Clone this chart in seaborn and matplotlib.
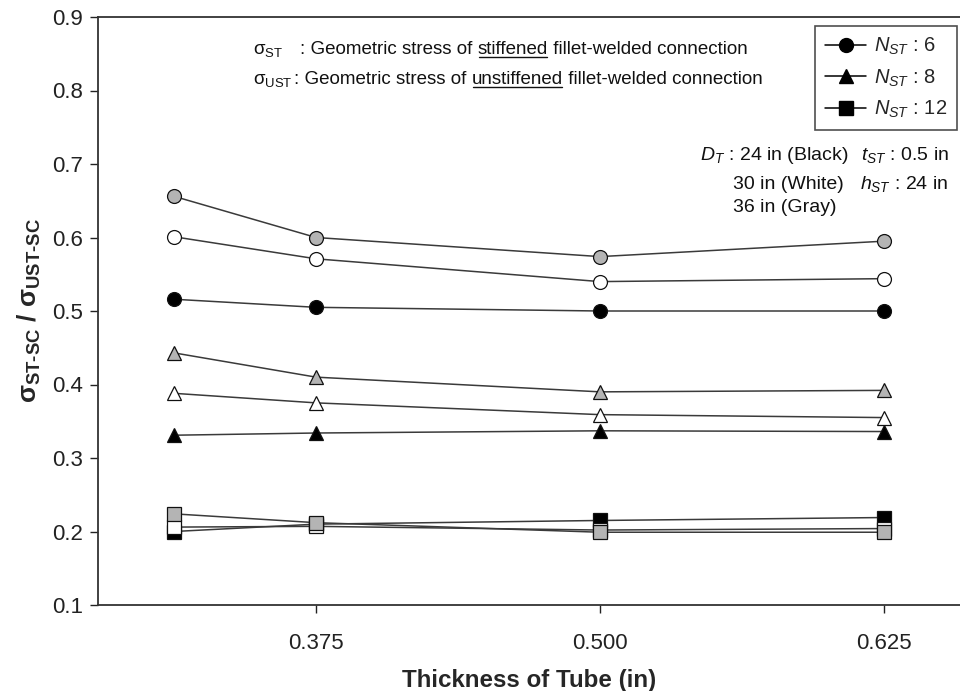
import matplotlib
matplotlib.use("Agg")
import matplotlib.pyplot as plt
from matplotlib.lines import Line2D
from matplotlib.transforms import IdentityTransform
import numpy as np
import pandas as pd
import seaborn as sns

# ---- data -------------------------------------------------------------
thickness = [0.3125, 0.375, 0.500, 0.625]
tick_values = [0.375, 0.500, 0.625]
tick_labels = ["0.375", "0.500", "0.625"]

# N_ST = 6 (circles)
n6_d24 = [0.516, 0.505, 0.500, 0.500]
n6_d30 = [0.601, 0.571, 0.540, 0.544]
n6_d36 = [0.656, 0.600, 0.574, 0.595]
# N_ST = 8 (triangles)
n8_d24 = [0.331, 0.334, 0.337, 0.336]
n8_d30 = [0.388, 0.375, 0.359, 0.355]
n8_d36 = [0.443, 0.410, 0.390, 0.392]
# N_ST = 12 (squares)
n12_d24 = [0.200, 0.210, 0.215, 0.219]
n12_d30 = [0.206, 0.207, 0.202, 0.204]
n12_d36 = [0.224, 0.212, 0.199, 0.199]

stiffener_counts = [6, 8, 12]
tube_diameters = [24, 30, 36]

series = {
    (6, 24): n6_d24, (6, 30): n6_d30, (6, 36): n6_d36,
    (8, 24): n8_d24, (8, 30): n8_d30, (8, 36): n8_d36,
    (12, 24): n12_d24, (12, 30): n12_d30, (12, 36): n12_d36,
}

rows = []
for (n, d), vals in series.items():
    for t, v in zip(thickness, vals):
        rows.append({"thickness": t, "ratio": v, "N": n, "D": d})
df = pd.DataFrame(rows)

# ---- style ------------------------------------------------------------
sns.set_style("ticks")
plt.rcParams["font.family"] = ["Liberation Sans", "DejaVu Sans"]
plt.rcParams["mathtext.fontset"] = "custom"
plt.rcParams["mathtext.rm"] = "Liberation Sans"
plt.rcParams["mathtext.it"] = "Liberation Sans:italic"
plt.rcParams["mathtext.bf"] = "Liberation Sans:bold"

W, H = 960, 691
fig = plt.figure(figsize=(W / 100, H / 100), dpi=100)
ax = fig.add_axes([98 / W, 1 - 605 / H, 1 - 98 / W, (605 - 17) / H])

markers = {6: "o", 8: "^", 12: "s"}
fills = {24: "#000000", 30: "#ffffff", 36: "#b4b4b4"}
sizes = {6: 10, 8: 10, 12: 9.5}
line_col = "#3a3a3a"

for n in stiffener_counts:
    for d in tube_diameters:
        sub = df[(df["N"] == n) & (df["D"] == d)]
        sns.lineplot(data=sub, x="thickness", y="ratio", ax=ax,
                     color=line_col, linewidth=1.1, marker=markers[n],
                     markersize=sizes[n], markerfacecolor=fills[d],
                     markeredgecolor="#111111", markeredgewidth=0.9,
                     legend=False)

ax.set_xlim(0.279, 0.6585)
ax.set_ylim(0.1, 0.9)
ax.set_xticks(tick_values)
ax.set_xticklabels(tick_labels)
ax.set_yticks(np.round(np.arange(0.1, 0.91, 0.1), 1))
ax.set_yticklabels([f"{v:.1f}" for v in np.arange(0.1, 0.91, 0.1)])
ax.tick_params(axis="both", direction="out", length=6, width=1,
               labelsize=16, colors="#222222", top=False, right=False)
ax.tick_params(axis="x", pad=14)
ax.tick_params(axis="y", pad=5)
for side in ["left", "bottom", "top"]:
    ax.spines[side].set_visible(True)
    ax.spines[side].set_linewidth(1.3)
    ax.spines[side].set_color("#333333")
ax.spines["right"].set_visible(False)

ax.set_xlabel("Thickness of Tube (in)", fontsize=17.4, fontweight="bold",
              labelpad=11)
ax.set_ylabel(r"σ$_{\mathbf{ST‐SC}}$ / σ$_{\mathbf{UST‐SC}}$",
              fontsize=19, fontweight="bold", labelpad=6)

# ---- legend -----------------------------------------------------------
handles = [Line2D([], [], color="black", lw=1.1, marker=markers[n],
                  markersize=sizes[n], markerfacecolor="black",
                  markeredgecolor="black") for n in stiffener_counts]
labels = [rf"$N_{{ST}}$ : {n}" for n in stiffener_counts]
leg = ax.legend(handles, labels, loc="upper right",
                bbox_to_anchor=(957 / W, 1 - 26 / H),
                bbox_transform=fig.transFigure, fontsize=14.5,
                frameon=True, fancybox=False, edgecolor="#222222",
                handlelength=2.0, handletextpad=0.4, labelspacing=0.5,
                borderpad=0.5, borderaxespad=0)
leg.get_frame().set_linewidth(1.2)

# ---- annotation text --------------------------------------------------
renderer = fig.canvas.get_renderer()
ident = IdentityTransform()
ink = "#111111"


def write_run(x, y, pieces, size):
    """Write text pieces one after another from pixel (x, y) measured from
    the top-left; pieces flagged True get an underline."""
    ypix = H - y
    for s, underline in pieces:
        t = fig.text(x, ypix, s, transform=ident, fontsize=size,
                     va="baseline", ha="left", color=ink)
        bb = t.get_window_extent(renderer)
        if underline:
            fig.add_artist(Line2D([bb.x0 + 1, bb.x1 - 1], [ypix - 3, ypix - 3],
                                  transform=ident, color=ink, lw=1.0))
        x = bb.x1
    return x


def put(x, y, s, size):
    fig.text(x, H - y, s, transform=ident, fontsize=size,
             va="baseline", ha="left", color=ink)


size_a = 13.5
put(253, 54, "σ$_{\\mathrm{ST}}$", size_a)
write_run(300, 54, [(": Geometric stress of ", False), ("stiffened", True),
                    (" fillet-welded connection", False)], size_a)
put(253, 84, "σ$_{\\mathrm{UST}}$", size_a)
write_run(294, 84, [(": Geometric stress of ", False), ("unstiffened", True),
                    (" fillet-welded connection", False)], size_a)

size_b = 14
put(700, 160, r"$D_T$ : 24 in (Black)", size_b)
put(861, 160, r"$t_{ST}$ : 0.5 in", size_b)
put(733, 189, "30 in (White)", size_b)
put(860, 189, r"$h_{ST}$ : 24 in", size_b)
put(733, 212, "36 in (Gray)", size_b)

fig.savefig("out.png", dpi=100, facecolor="white")
